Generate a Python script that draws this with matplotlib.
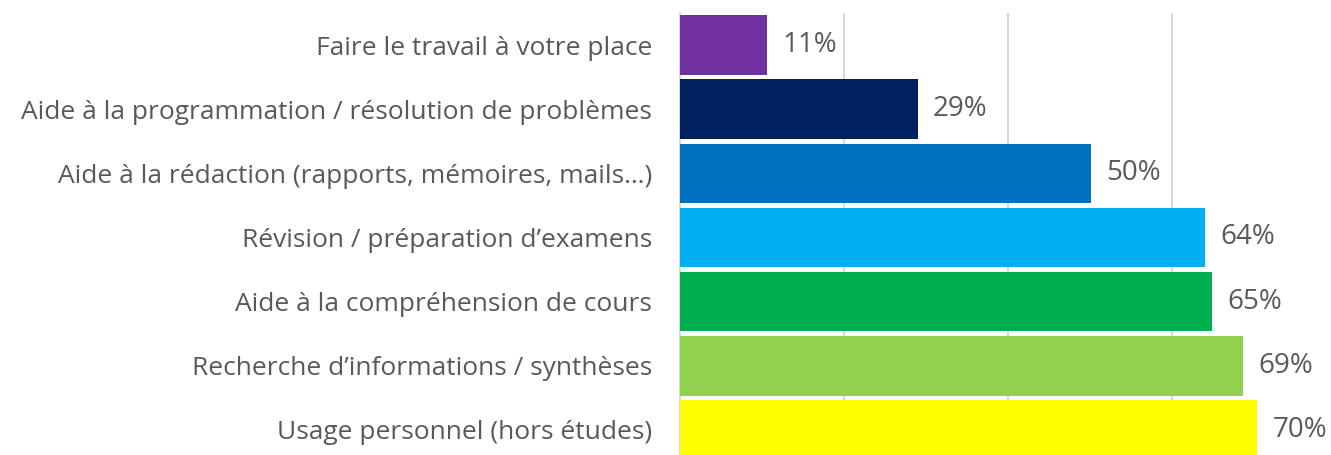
import matplotlib
matplotlib.use("Agg")
import matplotlib.pyplot as plt
from matplotlib.ticker import MultipleLocator

# data, top to bottom
categories = [
    "Faire le travail à votre place",
    "Aide à la programmation / résolution de problèmes",
    "Aide à la rédaction (rapports, mémoires, mails…)",
    "Révision / préparation d’examens",
    "Aide à la compréhension de cours",
    "Recherche d’informations / synthèses",
    "Usage personnel (hors études)",
]
values = [10.6, 29.0, 50.1, 64.0, 64.9, 68.7, 70.4]
colors = ["#7030A0", "#002060", "#0070C0", "#00B0F0", "#00B050", "#92D050", "#FFFF00"]

text_color = "#595959"
grid_color = "#D9D9D9"

plt.rcParams["font.family"] = ["Open Sans", "DejaVu Sans"]

W, H = 1331, 455
fig = plt.figure(figsize=(W / 100, H / 100), dpi=100)
left_px, right_px, top_px, bottom_px = 680, 1336, 13, 462
ax = fig.add_axes([left_px / W, 1 - bottom_px / H, (right_px - left_px) / W, (bottom_px - top_px) / H])

y = list(range(len(categories)))
ax.barh(y, values, height=0.93, color=colors, zorder=3)

for yi, v in zip(y, values):
    ax.annotate(f"{round(v):d}%", xy=(v, yi), xytext=(11, 0), textcoords="offset points",
                va="center", ha="left", fontsize=20, color=text_color)

ax.set_xlim(0, 80)
ax.set_ylim(len(categories) - 0.5, -0.5)
ax.xaxis.set_major_locator(MultipleLocator(20))
ax.grid(axis="x", color=grid_color, linewidth=1.5, zorder=0)
ax.set_xticklabels([])
ax.tick_params(axis="x", length=0)

ax.set_yticks(y)
ax.set_yticklabels(categories, fontsize=19, color=text_color)
ax.tick_params(axis="y", length=0, pad=20)

for side in ["top", "right", "bottom"]:
    ax.spines[side].set_visible(False)
ax.spines["left"].set_color(grid_color)
ax.spines["left"].set_linewidth(1.5)

fig.savefig("out.png", dpi=100)
plt.close(fig)
